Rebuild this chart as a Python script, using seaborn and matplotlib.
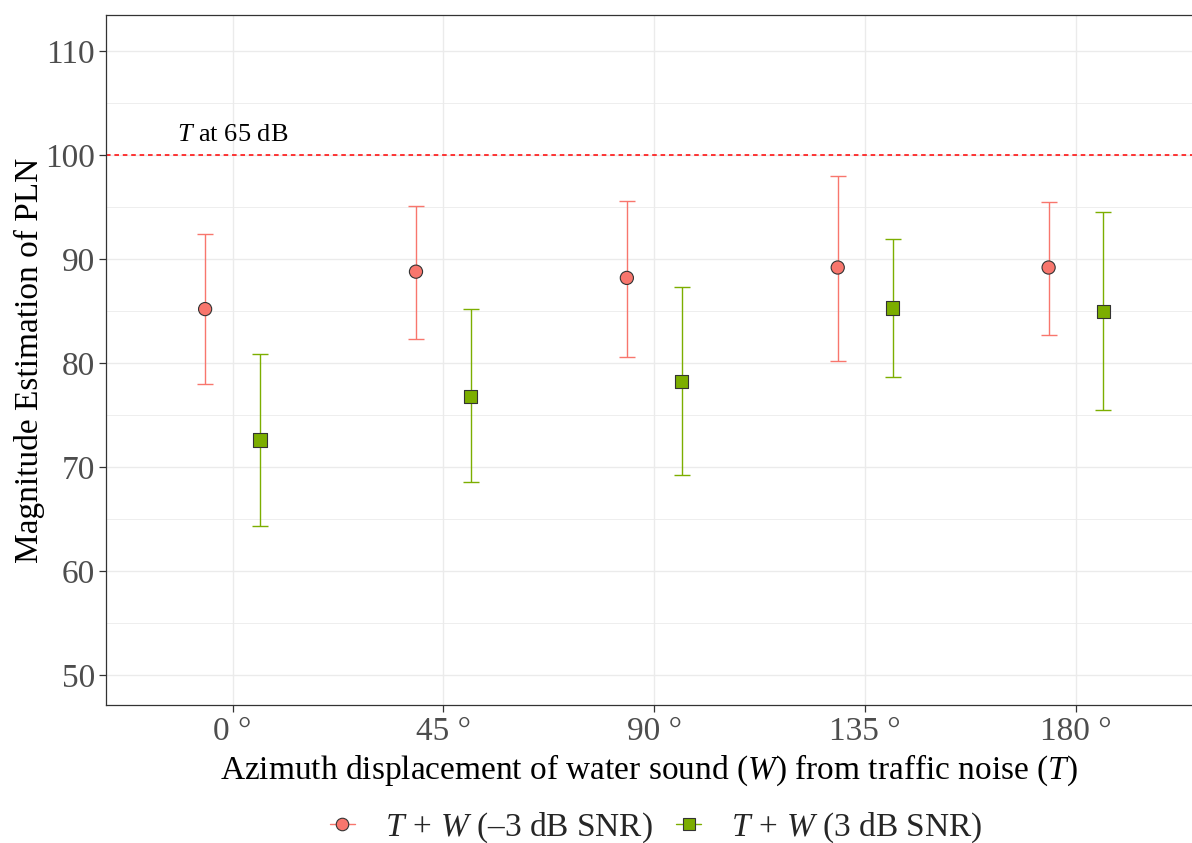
import numpy as np
import pandas as pd
import matplotlib
matplotlib.use("Agg")
import matplotlib.pyplot as plt
from matplotlib.lines import Line2D
from matplotlib.ticker import MultipleLocator
import seaborn as sns

# ---- data ----
angles = ["0 °", "45 °", "90 °", "135 °", "180 °"]
neg3_mean = [85.2, 88.8, 88.2, 89.2, 89.2]
neg3_low = [78.0, 82.3, 80.6, 80.2, 82.7]
neg3_high = [92.45, 95.1, 95.6, 98.0, 95.5]
pos3_mean = [72.6, 76.8, 78.2, 85.3, 85.0]
pos3_low = [64.3, 68.6, 69.2, 78.7, 75.5]
pos3_high = [80.85, 85.2, 87.3, 91.9, 94.5]
reference_level = 100
series_labels = [r"$T\,+\,W$ (–3 dB SNR)", r"$T\,+\,W$ (3 dB SNR)"]

red = "#F8766D"
green = "#7CAE00"

sns.set_theme(style="white")
plt.rcParams["font.family"] = ["Liberation Serif", "DejaVu Serif"]
plt.rcParams["mathtext.fontset"] = "custom"
plt.rcParams["mathtext.rm"] = "Liberation Serif"
plt.rcParams["mathtext.it"] = "Liberation Serif:italic"
plt.rcParams["mathtext.bf"] = "Liberation Serif:bold"

n = len(angles)
idx = np.arange(n)
dodge = 0.13
df = pd.DataFrame({
    "x": np.concatenate([idx - dodge, idx + dodge]),
    "y": neg3_mean + pos3_mean,
    "lo": neg3_low + pos3_low,
    "hi": neg3_high + pos3_high,
    "series": [series_labels[0]] * n + [series_labels[1]] * n,
})

fig = plt.figure(figsize=(11.92, 8.43), dpi=100)
ax = fig.add_axes([106 / 1192, 138 / 843, 1 - 106 / 1192, (705 - 15) / 843])

# grid
ax.set_axisbelow(True)
ax.yaxis.set_major_locator(MultipleLocator(10))
ax.yaxis.set_minor_locator(MultipleLocator(5))
ax.grid(True, which="major", color="#EBEBEB", linewidth=1.0)
ax.grid(True, which="minor", axis="y", color="#EBEBEB", linewidth=0.6)

# reference line
ax.axhline(reference_level, color="#FF0000", linestyle=(0, (3, 2.5)), linewidth=1.1, zorder=1)
ax.text(0, 102.0, r"$T$ at 65 dB", ha="center", va="center", fontsize=19, color="black")

# error bars
for (name, sub), col in zip(df.groupby("series", sort=False), [red, green]):
    ax.errorbar(sub["x"], sub["y"],
                yerr=[sub["y"] - sub["lo"], sub["hi"] - sub["y"]],
                fmt="none", ecolor=col, elinewidth=1.0, capsize=5.5, capthick=1.0, zorder=2)

sns.scatterplot(data=df, x="x", y="y", hue="series", style="series",
                palette=[red, green], markers=["o", "s"], s=90,
                edgecolor="#333333", linewidth=0.8, ax=ax, zorder=3, legend=False)

ax.set_xlim(-0.6, 4.55)
ax.set_ylim(47.1, 113.5)
ax.set_xticks(idx)
ax.set_xticklabels(angles)
ax.set_yticks([50, 60, 70, 80, 90, 100, 110])
ax.tick_params(axis="both", which="major", labelsize=24, labelcolor="#4D4D4D",
               color="#333333", length=5, width=0.9, direction="out",
               left=True, bottom=True, pad=3)
ax.tick_params(axis="y", which="minor", left=False)

for side in ["left", "bottom", "top"]:
    ax.spines[side].set_color("#333333")
    ax.spines[side].set_linewidth(0.9)
ax.spines["right"].set_visible(False)

ax.set_xlabel(r"Azimuth displacement of water sound ($W$) from traffic noise ($T$)",
              fontsize=24, color="black", labelpad=4)
ax.set_ylabel("Magnitude Estimation of PLN", fontsize=24, color="black", labelpad=0)

handles = [
    Line2D([0], [0], color=red, marker="o", markersize=9, markerfacecolor=red,
           markeredgecolor="#333333", markeredgewidth=0.8, linewidth=1.0),
    Line2D([0], [0], color=green, marker="s", markersize=9, markerfacecolor=green,
           markeredgecolor="#333333", markeredgewidth=0.8, linewidth=1.0),
]
fig.legend(handles, series_labels, loc="center", bbox_to_anchor=(656 / 1192, 1 - 828 / 843),
           ncol=2, frameon=False, fontsize=24, handlelength=0.75, handletextpad=0.9,
           columnspacing=0.7)

fig.savefig("out.png", dpi=100)
